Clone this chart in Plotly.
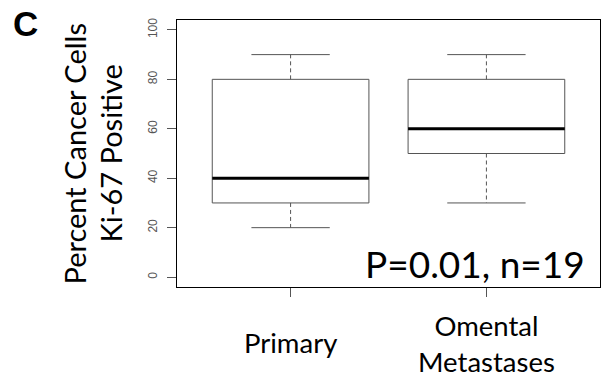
import plotly.graph_objects as go

categories = ["Primary", "Omental Metastases"]
x_labels = ["Primary", "Omental<br>Metastases"]
y_title_lines = ["Percent Cancer Cells", "Ki-67 Positive"]
q1 = [30, 50]
median = [40, 60]
q3 = [80, 80]
lower_whisker = [20, 30]
upper_whisker = [90, 90]
y_ticks = [0, 20, 40, 60, 80, 100]

W, H = 601, 381
ML, MR, MT, MB = 177, 1, 20, 94
PW, PH = W - ML - MR, H - MT - MB

def px_x(px):
    return (px - ML) / PW

def px_y(py):
    return (H - MB - py) / PH

BOX_HALF = 0.4
CAP_HALF = 0.2
BOX_COLOR = "#555555"
TEXT_FONT = "Lato"

fig = go.Figure()
for i, cat in enumerate(categories):
    x = i + 1
    fig.add_trace(go.Scatter(
        x=[x, x, None, x, x],
        y=[q3[i], upper_whisker[i], None, q1[i], lower_whisker[i]],
        mode="lines", line=dict(color=BOX_COLOR, width=1, dash="4px,3px"),
        hoverinfo="skip", showlegend=False))
    fig.add_trace(go.Scatter(
        x=[x - CAP_HALF, x + CAP_HALF, None, x - CAP_HALF, x + CAP_HALF],
        y=[upper_whisker[i], upper_whisker[i], None, lower_whisker[i], lower_whisker[i]],
        mode="lines", line=dict(color=BOX_COLOR, width=1),
        hoverinfo="skip", showlegend=False))
    fig.add_trace(go.Scatter(
        x=[x - BOX_HALF, x + BOX_HALF, x + BOX_HALF, x - BOX_HALF, x - BOX_HALF],
        y=[q1[i], q1[i], q3[i], q3[i], q1[i]],
        mode="lines", line=dict(color=BOX_COLOR, width=1),
        hoverinfo="skip", showlegend=False, name=cat))
    fig.add_trace(go.Scatter(
        x=[x - BOX_HALF, x + BOX_HALF],
        y=[median[i], median[i]],
        mode="lines", line=dict(color="black", width=3),
        hoverinfo="skip", showlegend=False))

# category labels under the axis
block_centers = [342, 343]
for i, lab in enumerate(x_labels):
    fig.add_annotation(x=i + 1, y=px_y(block_centers[i]), xref="x", yref="paper",
                       text=lab, showarrow=False, xanchor="center", yanchor="middle",
                       font=dict(family=TEXT_FONT, size=27.5, color="black"))

# y title (two lines)
for j, line in enumerate(y_title_lines):
    fig.add_annotation(x=px_x(74 + 36 * j), y=0.5, xref="paper", yref="paper",
                       text=line, textangle=-90,
                       showarrow=False, xanchor="center", yanchor="middle",
                       font=dict(family=TEXT_FONT, size=29, color="black"))

# panel letter
fig.add_annotation(x=px_x(25), y=px_y(23.5), xref="paper", yref="paper",
                   text="<b>C</b>", showarrow=False, xanchor="center", yanchor="middle",
                   font=dict(family="Liberation Sans", size=35, color="black"))

# stats text
fig.add_annotation(x=px_x(587), y=px_y(263), xref="paper", yref="paper",
                   text="P=0.01, n=19", showarrow=False, xanchor="right", yanchor="middle",
                   font=dict(family=TEXT_FONT, size=37, color="black"))

fig.update_layout(
    width=W, height=H,
    margin=dict(l=ML, r=MR, t=MT, b=MB),
    paper_bgcolor="white", plot_bgcolor="white",
    xaxis=dict(range=[0.42, 2.58], tickvals=[1, 2], ticktext=["", ""],
               ticks="outside", ticklen=9, tickcolor="#555555",
               showline=True, linecolor="black", linewidth=1, mirror=True,
               showgrid=False, zeroline=False),
    yaxis=dict(range=[-4, 104], tickvals=y_ticks, ticks="outside", ticklen=9,
               tickcolor="#555555", tickangle=-90, ticklabelstandoff=5,
               tickfont=dict(family="Liberation Sans", size=12, color="#555555"),
               showline=True, linecolor="black", linewidth=1, mirror=True,
               showgrid=False, zeroline=False),
)

fig.write_html("out.html",
               config={"displayModeBar": False, "staticPlot": True},
               post_script="document.body.style.margin='0';document.body.style.overflow='hidden';")
